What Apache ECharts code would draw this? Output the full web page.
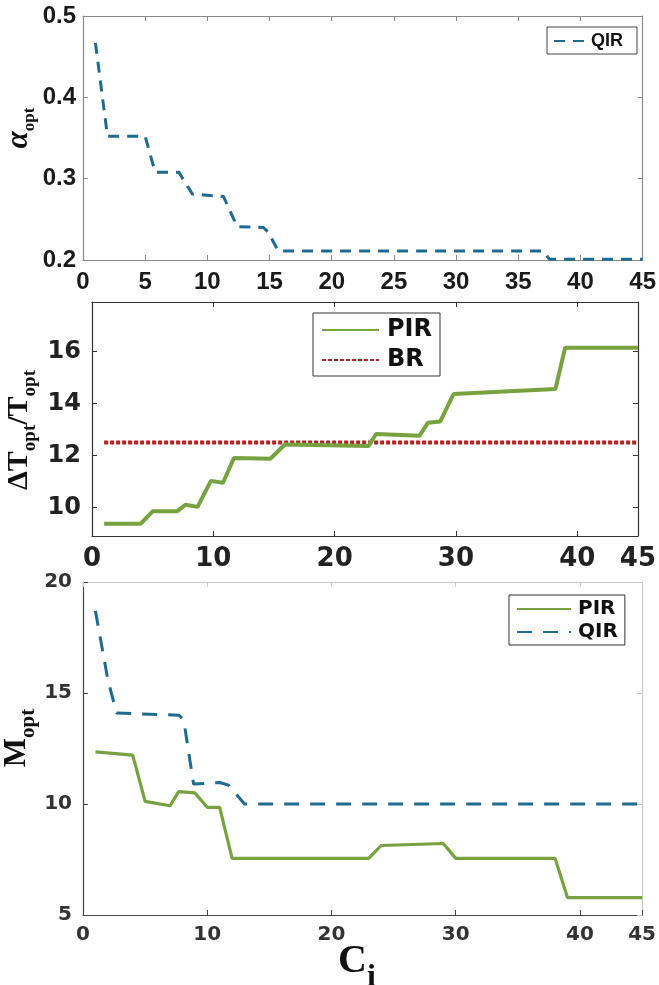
<!DOCTYPE html>
<html><head><meta charset="utf-8">
<script src="https://cdn.jsdelivr.net/npm/echarts@6/dist/echarts.min.js"></script>
<style>html,body{margin:0;padding:0;background:#fff}#c{width:659px;height:985px}</style>
</head><body><div id="c"></div>
<script>
// ---------- Panel 1: alpha_opt (QIR) ----------
const alphaQirX = [1, 1.97, 5.0, 5.8, 7.7, 8.8, 11.3, 12.4, 14.5, 14.9, 15.7, 37.0, 37.5, 45];
const alphaQirY = [0.467, 0.352, 0.352, 0.308, 0.308, 0.281, 0.278, 0.241, 0.240, 0.234, 0.211, 0.211, 0.201, 0.201];
const alphaXTicks = [0, 5, 10, 15, 20, 25, 30, 35, 40, 45];
const alphaYTicks = [0.2, 0.3, 0.4, 0.5];

// ---------- Panel 2: dT_opt/T_opt (PIR, BR) ----------
const dtPirX = [1, 4, 5, 7, 7.7, 8.7, 9.8, 10.8, 11.7, 14.7, 15.9, 22.8, 23.4, 27, 27.7, 28.7, 29.8, 38.2, 39, 45];
const dtPirY = [9.37, 9.37, 9.85, 9.85, 10.1, 10.02, 11.02, 10.95, 11.9, 11.87, 12.42, 12.36, 12.82, 12.76, 13.26, 13.3, 14.36, 14.55, 16.14, 16.14];
const dtBrX = [1, 45];
const dtBrY = [12.5, 12.5];
const dtXTicks = [0, 10, 20, 30, 40, 45];
const dtYTicks = [10, 12, 14, 16];

// ---------- Panel 3: M_opt (PIR, QIR) ----------
const mPirX = [1, 4, 5, 7, 7.7, 9, 10, 11, 12, 23, 24, 29, 30, 38, 39, 45];
const mPirY = [12.35, 12.2, 10.12, 9.92, 10.56, 10.5, 9.85, 9.85, 7.55, 7.55, 8.13, 8.22, 7.55, 7.55, 5.78, 5.78];
const mQirX = [1, 2, 2.7, 7.7, 8.1, 8.9, 11.0, 11.7, 13.0, 45];
const mQirY = [18.7, 15.6, 14.1, 14.0, 13.8, 10.9, 10.97, 10.85, 10.0, 10.0];
const mXTicks = [0, 10, 20, 30, 40, 45];
const mYTicks = [5, 10, 15, 20];

const pairs = (xs, ys) => xs.map((x, i) => [x, ys[i]]);

const BLUE = '#1f6b90';
const GREEN = '#77a23f';
const RED = '#b3221f';
const NARROW = '"Liberation Sans", Arial, sans-serif';
const WIDE = '"DejaVu Sans", sans-serif';
const SERIF = '"Liberation Serif", "DejaVu Serif", serif';

const grids = [
  {left: 83, top: 16, width: 561, height: 244},
  {left: 92, top: 302, width: 553, height: 234},
  {left: 83, top: 582, width: 562, height: 333}
];

function xAxes(gi, ticks, lblStyle, lineColor, boxColor, margin) {
  return [
    {type: 'value', gridIndex: gi, min: 0, max: 45, position: 'bottom',
     axisLine: {show: true, onZero: false, lineStyle: {color: lineColor, width: 1.2}},
     axisTick: {show: true, inside: true, length: 5, customValues: ticks, lineStyle: {color: lineColor}},
     axisLabel: Object.assign({show: true, customValues: ticks, margin: margin}, lblStyle),
     splitLine: {show: false}},
    {type: 'value', gridIndex: gi, min: 0, max: 45, position: 'top',
     axisLine: {show: true, onZero: false, lineStyle: {color: boxColor, width: 1.2}},
     axisTick: {show: true, inside: true, length: 5, customValues: ticks, lineStyle: {color: boxColor}},
     axisLabel: {show: false}, splitLine: {show: false}}
  ];
}
function yAxes(gi, min, max, ticks, lblStyle, lineColor, boxColor, margin, fmt) {
  return [
    {type: 'value', gridIndex: gi, min: min, max: max, position: 'left',
     axisLine: {show: true, onZero: false, lineStyle: {color: lineColor, width: 1.2}},
     axisTick: {show: true, inside: true, length: 5, customValues: ticks, lineStyle: {color: lineColor}},
     axisLabel: Object.assign({show: true, customValues: ticks, margin: margin, formatter: fmt}, lblStyle),
     splitLine: {show: false}},
    {type: 'value', gridIndex: gi, min: min, max: max, position: 'right',
     axisLine: {show: true, onZero: false, lineStyle: {color: boxColor, width: 1.2}},
     axisTick: {show: true, inside: true, length: 5, customValues: ticks, lineStyle: {color: boxColor}},
     axisLabel: {show: false}, splitLine: {show: false}}
  ];
}

const lbl1 = {fontFamily: NARROW, fontWeight: 'bold', fontSize: 24, color: '#1a1a1a'};
const lbl2y = {fontFamily: WIDE, fontWeight: 'bold', fontSize: 24, color: '#222'};
const lbl2x = {fontFamily: WIDE, fontWeight: 'bold', fontSize: 26, color: '#222'};
const lbl3 = {fontFamily: WIDE, fontWeight: 'bold', fontSize: 20, color: '#333'};

const xAxis = [].concat(
  xAxes(0, alphaXTicks, lbl1, '#8a8a8a', '#8a8a8a', 10),
  xAxes(1, dtXTicks, lbl2x, '#333', '#333', 10),
  xAxes(2, mXTicks, lbl3, '#444', '#c8c8c8', 10)
);
const yAxis = [].concat(
  yAxes(0, 0.2, 0.5, alphaYTicks, lbl1, '#8a8a8a', '#8a8a8a', 7, v => v.toFixed(1)),
  yAxes(1, 8.9, 17.9, dtYTicks, lbl2y, '#333', '#333', 11, v => String(v)),
  yAxes(2, 5, 20, mYTicks, lbl3, '#444', '#c8c8c8', 11, v => String(v))
);

const series = [
  {name: 'QIR#a', type: 'line', xAxisIndex: 0, yAxisIndex: 0, data: pairs(alphaQirX, alphaQirY),
   symbol: 'none', lineStyle: {color: BLUE, width: 3, type: [11, 8]}, itemStyle: {color: BLUE}, z: 3},
  {name: 'BR#b', type: 'line', xAxisIndex: 2, yAxisIndex: 2, data: pairs(dtBrX, dtBrY),
   symbol: 'none', lineStyle: {color: RED, width: 4, type: [4, 2]}, itemStyle: {color: RED}, z: 3},
  {name: 'PIR#b', type: 'line', xAxisIndex: 2, yAxisIndex: 2, data: pairs(dtPirX, dtPirY),
   symbol: 'none', lineStyle: {color: GREEN, width: 4}, itemStyle: {color: GREEN}, z: 4},
  {name: 'PIR#c', type: 'line', xAxisIndex: 4, yAxisIndex: 4, data: pairs(mPirX, mPirY),
   symbol: 'none', lineStyle: {color: GREEN, width: 3.2}, itemStyle: {color: GREEN}, z: 3},
  {name: 'QIR#c', type: 'line', xAxisIndex: 4, yAxisIndex: 4, data: pairs(mQirX, mQirY),
   symbol: 'none', lineStyle: {color: BLUE, width: 3, type: [15, 11]}, itemStyle: {color: BLUE}, z: 3}
];

const fmtName = n => n.split('#')[0];
const legend = [
  {data: ['QIR#a'], left: 547, top: 27, orient: 'vertical', formatter: fmtName,
   itemWidth: 32, itemHeight: 12, padding: [5, 14, 4, 6], borderColor: '#444', borderWidth: 1,
   backgroundColor: '#fff', selectedMode: false, itemStyle: {opacity: 0},
   textStyle: {fontFamily: NARROW, fontWeight: 'bold', fontSize: 18, color: '#111'}},
  {data: ['PIR#b', 'BR#b'], left: 313, top: 313, orient: 'vertical', formatter: fmtName,
   itemWidth: 57, itemHeight: 14, itemGap: 6, padding: [5, 8, 4, 8], borderColor: '#333', borderWidth: 1,
   backgroundColor: '#fff', selectedMode: false, itemStyle: {opacity: 0},
   textStyle: {fontFamily: WIDE, fontWeight: 'bold', fontSize: 24, color: '#111', padding: [0, 0, 0, 3]}},
  {data: ['PIR#c', 'QIR#c'], left: 509, top: 595, orient: 'vertical', formatter: fmtName,
   itemWidth: 54, itemHeight: 12, itemGap: 3, padding: [4, 7, 3, 7], borderColor: '#333', borderWidth: 1,
   backgroundColor: '#fff', selectedMode: false, itemStyle: {opacity: 0},
   textStyle: {fontFamily: WIDE, fontWeight: 'bold', fontSize: 20, color: '#111', padding: [0, 0, 0, 2]}}
];

function subText(x, y, rot, mainStyle, subStyle, text) {
  return {
    type: 'text', x: x, y: y, rotation: rot, z: 10,
    style: {
      text: text, align: 'center', verticalAlign: 'middle', fill: '#111',
      rich: {m: mainStyle, s: subStyle}
    }
  };
}
const serifB = (size, italic) => ({fontFamily: SERIF, fontWeight: 'bold', fontStyle: italic ? 'italic' : 'normal',
  fontSize: size, lineHeight: size + 4, verticalAlign: 'top', fill: '#111'});
const subB = (size, pad) => ({fontFamily: SERIF, fontWeight: 'bold', fontSize: size, lineHeight: size,
  padding: [pad, 0, 0, 0], verticalAlign: 'top', fill: '#111'});

const graphic = [
  subText(21, 128, Math.PI / 2, serifB(31, true), subB(17, 18), '{m|α}{s|opt}'),
  subText(21, 430, Math.PI / 2, serifB(30, false), subB(19, 17), '{m|ΔT}{s|opt}{m|/T}{s|opt}'),
  subText(19, 738, Math.PI / 2, serifB(31, false), subB(21, 17), '{m|M}{s|opt}'),
  subText(357, 964, 0, serifB(40, false), subB(32, 20), '{m|C}{s|i}')
];

const chart = echarts.init(document.getElementById('c'), null, {renderer: 'canvas'});
chart.setOption({
  backgroundColor: '#fff',
  animation: false,
  grid: grids,
  xAxis: xAxis,
  yAxis: yAxis,
  legend: legend,
  series: series,
  graphic: graphic
});
</script></body></html>
